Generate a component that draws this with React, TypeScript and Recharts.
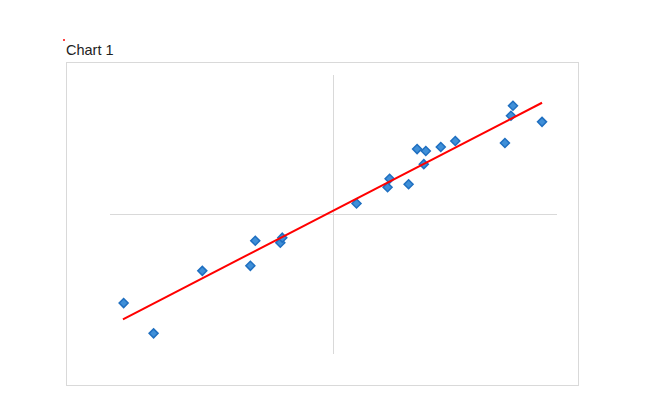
import { ScatterChart, Scatter, XAxis, YAxis, ReferenceLine } from "recharts"

const xValues = [-9.39, -8.05, -5.87, -3.72, -3.5, -2.38, -2.29, 1.03, 2.42, 2.51, 3.36, 3.74, 4.04, 4.13, 4.8, 5.45, 7.67, 7.94, 8.03, 9.33]
const yValues = [-6.35, -8.52, -4.04, -3.68, -1.88, -2.02, -1.66, 0.79, 1.95, 2.56, 2.17, 4.69, 3.61, 4.55, 4.84, 5.27, 5.13, 7.08, 7.8, 6.64]
const trendX = [-9.42, 9.33]
const trendY = [-7.51, 8.01]

const points = xValues.map((x, i) => ({ x, y: yValues[i] }))
const trend = trendX.map((x, i) => ({ x, y: trendY[i] }))

const Diamond = (props: any) => {
    const { cx, cy } = props
    const r = 4.5
    return (
        <polygon
            points={`${cx},${cy - r} ${cx + r},${cy} ${cx},${cy + r} ${cx - r},${cy}`}
            fill="#3f8fd8"
            stroke="#1f6fc0"
            strokeWidth={1.5}
        />
    )
}

export default function App() {
    return (
        <div style={{ position: "absolute", left: 0, top: 0, width: 663, height: 403, background: "#fff", fontFamily: "'Liberation Sans', Arial, sans-serif" }}>
            <div style={{ position: "absolute", left: 63, top: 39, width: 2, height: 2, borderRadius: 1, background: "red" }} />
            <div style={{ position: "absolute", left: 66, top: 42, fontSize: 14.5, color: "#222" }}>Chart 1</div>
            <div style={{ position: "absolute", left: 66, top: 62, width: 511, height: 322, border: "1px solid #d9d9d9" }}>
                <ScatterChart width={511} height={322} margin={{ top: 12, right: 21, bottom: 31, left: 43 }}>
                    <XAxis type="number" dataKey="x" domain={[-10, 10]} hide />
                    <YAxis type="number" dataKey="y" domain={[-10, 10]} hide />
                    <ReferenceLine x={0} stroke="#d9d9d9" />
                    <ReferenceLine y={0} stroke="#d9d9d9" />
                    <Scatter data={points} shape={Diamond} isAnimationActive={false} />
                    <Scatter data={trend} line={{ stroke: "#ff0000", strokeWidth: 2 }} shape={() => <g />} isAnimationActive={false} />
                </ScatterChart>
            </div>
        </div>
    )
}
